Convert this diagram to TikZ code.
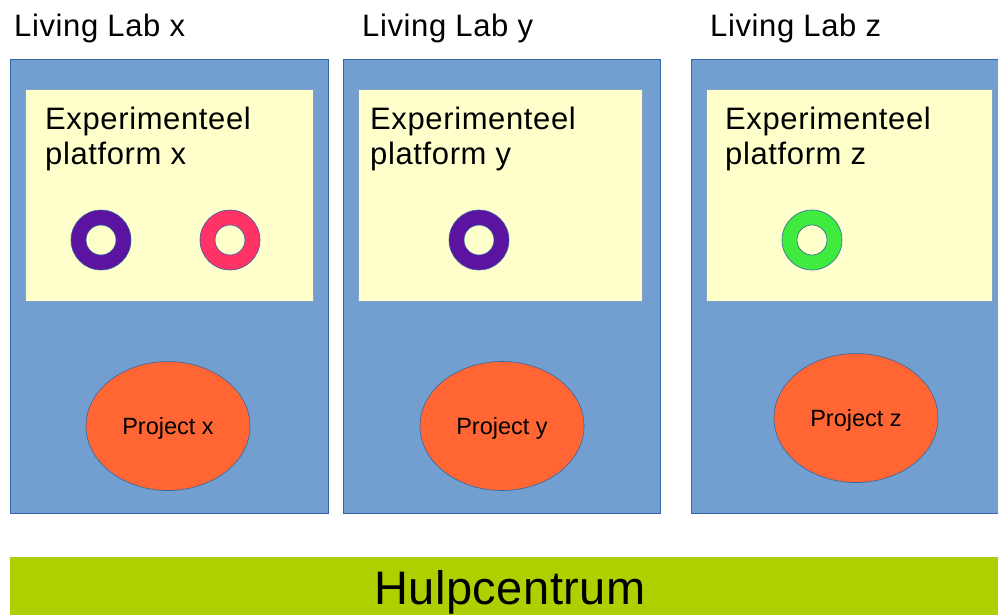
\documentclass[tikz,border=0pt]{standalone}
\usepackage{fontspec}
\setmainfont{Liberation Sans}
\usetikzlibrary{shapes.geometric}
\definecolor{labblue}{HTML}{729FCF}
\definecolor{edgeblue}{HTML}{3465A4}
\definecolor{platyellow}{HTML}{FFFFCC}
\definecolor{projorange}{HTML}{FF6633}
\definecolor{ringpurple}{HTML}{5C14A0}
\definecolor{ringpink}{HTML}{FF3366}
\definecolor{ringgreen}{HTML}{3EEB3E}
\definecolor{barlime}{HTML}{AFD000}
\tikzset{
  labbox/.style={draw=edgeblue, fill=labblue, line width=0.8pt},
  platbox/.style={draw=edgeblue!60, fill=platyellow, line width=0.8pt},
  labtitle/.style={anchor=base west, inner sep=0pt, font=\fontsize{31}{34}\selectfont\addfontfeatures{LetterSpace=2}},
  plattitle/.style={anchor=base west, inner sep=0pt, align=left, font=\fontsize{31}{35}\selectfont\addfontfeatures{LetterSpace=2}},
  project/.style={ellipse, draw=edgeblue, fill=projorange, line width=0.6pt, minimum width=164pt, minimum height=129pt, inner sep=0pt},
  projtext/.style={inner sep=0pt, text height=17pt, text depth=0pt, font=\fontsize{23.5}{26}\selectfont},
  ring/.style={draw=edgeblue, line width=0.6pt, even odd rule},
}
\begin{document}
\begin{tikzpicture}[x=1pt,y=-1pt]
\useasboundingbox (0,0) rectangle (998,614);
\fill[white] (0,0) rectangle (998,614);
% lab boxes
\path[labbox] (10,59) rectangle (328,513);
\path[labbox] (343,59) rectangle (660,513);
\path[labbox] (691,59) rectangle (1010,513);
% platform boxes
\path[platbox] (25,89) rectangle (313,301);
\path[platbox] (358,89) rectangle (642,301);
\path[platbox] (706,89) rectangle (992,301);
% titles
\node[labtitle] (tx) at (14,36) {Living Lab x};
\node[labtitle] (ty) at (362,36) {Living Lab y};
\node[labtitle] (tz) at (710,36) {Living Lab z};
% platform titles
\node[plattitle] (px) at (45,129) {Experimenteel};
\node[plattitle] (px2) at (45,164) {platform x};
\node[plattitle] (py) at (370,129) {Experimenteel};
\node[plattitle] (py2) at (370,164) {platform y};
\node[plattitle] (pz) at (725,129) {Experimenteel};
\node[plattitle] (pz2) at (725,164) {platform z};
% rings
\coordinate (r1) at (101,240);
\coordinate (r2) at (230,240);
\coordinate (r3) at (479,240);
\coordinate (r4) at (812,240);
\path[ring, fill=ringpurple] (r1) circle (30) (r1) circle (15);
\path[ring, fill=ringpink] (r2) circle (30) (r2) circle (15);
\path[ring, fill=ringpurple] (r3) circle (30) (r3) circle (15);
\path[ring, fill=ringgreen] (r4) circle (30) (r4) circle (15);
% projects
\node[project] (prx) at (168,426) {};
\node[projtext] (prxt) at (prx) {Project x};
\node[project] (pry) at (502,426) {};
\node[projtext] (pryt) at (pry) {Project y};
\node[project] (prz) at (856,418) {};
\node[projtext] (przt) at (prz) {Project z};
% help centre bar
\fill[barlime] (10,557) rectangle (1010,620);
\node[anchor=base, inner sep=0pt, font=\fontsize{47}{50}\selectfont\addfontfeatures{LetterSpace=1}] (hc) at (510,604) {Hulpcentrum};
\end{tikzpicture}
\end{document}
